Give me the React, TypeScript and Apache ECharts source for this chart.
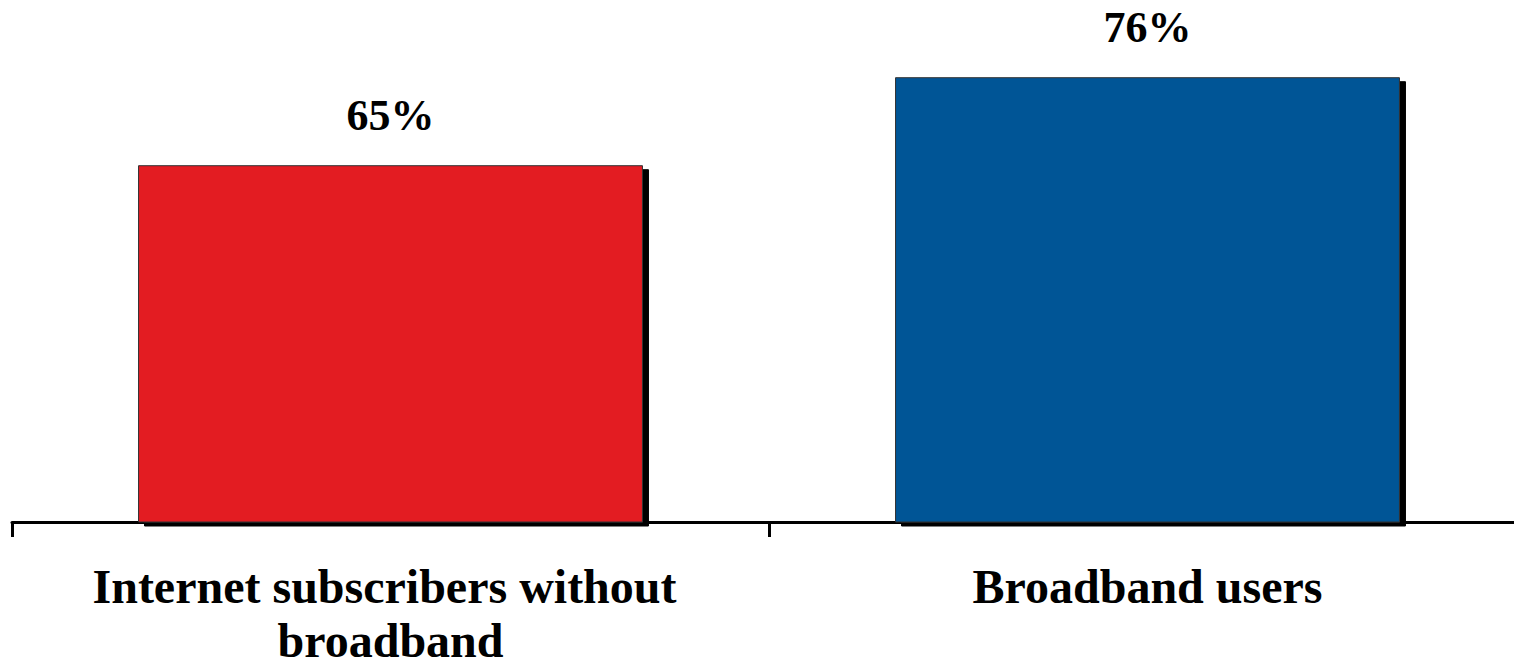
import React, { useEffect, useRef } from "react";
import * as echarts from "echarts";

const categories = ["Internet subscribers without broadband", "Broadband users"];
const values = [65, 76];
const barColors = ["#e31b23", "#005596"];

export default function App() {
  const ref = useRef<HTMLDivElement>(null);
  useEffect(() => {
    const chart = echarts.init(ref.current!, null, { renderer: "svg" });
    chart.setOption({
      animation: false,
      backgroundColor: "#ffffff",
      grid: {
        left: 12,
        width: 1514,
        top: 42,
        bottom: 145,
        containLabel: false,
        outerBoundsMode: "none",
      },
      xAxis: {
        type: "category",
        data: categories,
        axisLine: { show: true, lineStyle: { color: "#000", width: 3 } },
        axisTick: { show: true, length: 15, lineStyle: { color: "#000", width: 3 } },
        axisLabel: {
          color: "#000",
          fontFamily: "Liberation Serif",
          fontWeight: "bold",
          fontSize: 48,
          lineHeight: 54,
          margin: 37,
          width: 680,
          overflow: "break",
          interval: 0,
        },
      },
      yAxis: {
        type: "value",
        min: 20.4,
        max: 80.4,
        show: false,
        splitLine: { show: false },
      },
      series: [
        {
          type: "bar",
          barCategoryGap: "33.3%",
          data: values.map((v, i) => ({
            value: v,
            itemStyle: {
              color: barColors[i],
              borderColor: "#333",
              borderWidth: 1,
              shadowColor: "#000",
              shadowBlur: 0,
              shadowOffsetX: 6,
              shadowOffsetY: 4,
            },
          })),
          label: {
            show: true,
            position: "top",
            distance: 28,
            formatter: "{c}%",
            color: "#000",
            fontFamily: "Liberation Serif",
            fontWeight: "bold",
            fontSize: 44,
          },
        },
      ],
    });
    return () => chart.dispose();
  }, []);
  return (
    <div
      ref={ref}
      style={{ position: "fixed", left: 0, top: 0, width: 1514, height: 667 }}
    />
  );
}
